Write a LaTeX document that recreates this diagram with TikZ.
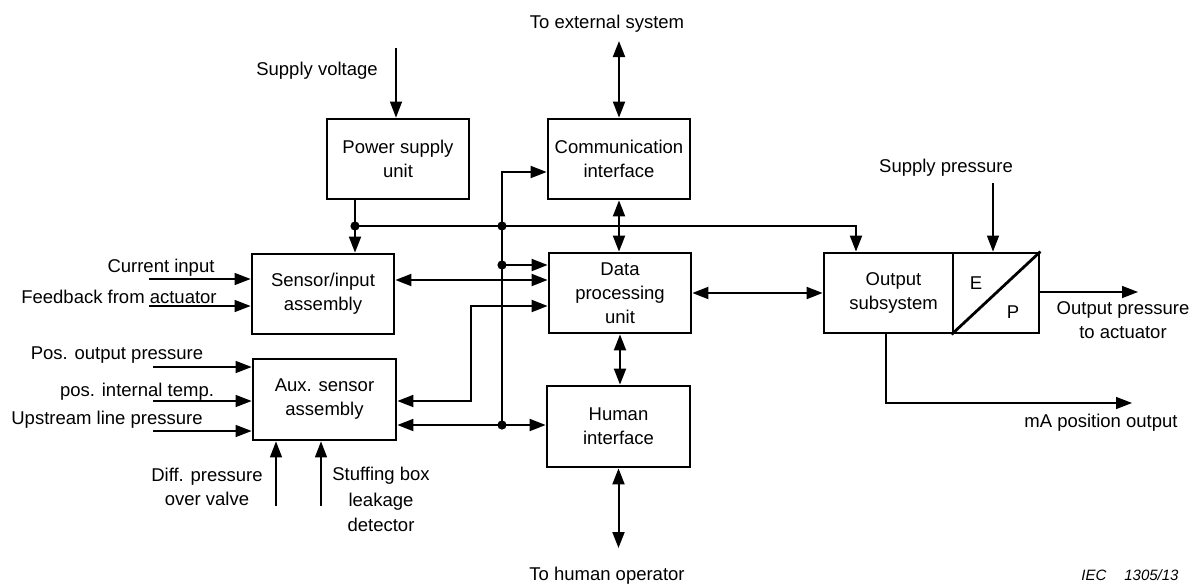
\documentclass[tikz,border=0pt]{standalone}
\usepackage{fontspec}
\setmainfont{Liberation Sans}
\usetikzlibrary{arrows.meta,calc,positioning}
\tikzset{blk/.style={draw, line width=1.4pt, minimum width=71pt, minimum height=40pt, align=center, inner sep=0pt},
	lbl/.style={align=center, inner sep=0pt, yshift=-1.25pt},
	bus/.style={line width=1pt},
	sig/.style={line width=0.7pt},
	jdot/.style={circle, fill, inner sep=0pt, minimum size=4.6pt}}

\begin{document}
\begin{tikzpicture}[x=0.5pt, y=-0.5pt, >={Triangle[length=8pt,width=6pt]}, font=\fontsize{9.25}{12}\selectfont]
	\useasboundingbox (0,0) rectangle (1195,584);

	% blocks
	\node [blk] (psu) at (398,159) {Power supply\\unit};
	\node [blk] (comm) at (619,159) {Communication\\interface};
	\node [blk] (sens) at (323,294) {Sensor/input\\assembly};
	\node [blk] (dpu) at (620,293) {Data\\processing\\unit};
	\node [blk, minimum width=71.5pt, minimum height=40.5pt] (aux) at (324.5,399.5) {Aux. sensor\\assembly};
	\node [blk, minimum width=71.5pt, minimum height=40.5pt] (hmi) at (618.5,426.5) {Human\\interface};
	\node [blk, minimum width=64.5pt] (out) at (888.5,293) {\hspace*{5pt}Output\\\hspace*{5pt}subsystem};
	\node [blk, minimum width=43pt] (ep) at (996,293) {};
	\draw [line width=1.4pt] (ep.south west) -- (ep.north east);
	\node [lbl] (e) at (976,281) {E};
	\node [lbl] (p) at (1013,310) {P};

	% junctions
	\coordinate (jp) at (355,226);
	\coordinate (jb) at (502,226);
	\coordinate (jo) at (856,226);
	\coordinate (jt) at (502,172);
	\coordinate (jd) at (502,265);
	\coordinate (jh) at (502,425);
	\coordinate (ja) at (471,401);
	\coordinate (jm) at (886,403);

	% power bus
	\draw [bus] (psu.south -| jp) -- (jp);
	\draw [bus,->] (jp) -- (sens.north -| jp);
	\draw [bus,->] (jp) -- (jb) -- (jo) -- (out.north -| jo);
	\draw [bus,->] (jh) -- (jt) -- (comm.west |- jt);
	\draw [bus,->] (jd) -- (dpu.west |- jd);
	\node [jdot] (d1) at (jp) {};
	\node [jdot] (d2) at (jb) {};
	\node [jdot] (d3) at (jd) {};
	\node [jdot] (d4) at (jh) {};

	% data links
	\draw [bus,<->] ([yshift=7pt]sens.east) -- ([yshift=7pt]sens.east -| dpu.west);
	\draw [bus,<->] (aux.east |- ja) -- (ja) |- ([yshift=-6.5pt]dpu.west);
	\draw [bus,<->] (aux.east |- jh) -- (hmi.west |- jh);
	\draw [bus,<->] (comm.south) -- (comm.south |- dpu.north);
	\draw [bus,<->] (dpu.south) -- (dpu.south |- hmi.north);
	\draw [bus,<->] (dpu.east) -- (out.west);

	% outside world
	\coordinate (ext) at (619,41);
	\coordinate (opr) at (619,548);
	\coordinate (sv) at (396,48);
	\coordinate (sp) at (993,183);
	\coordinate (opa) at (1138,292);
	\coordinate (ma) at (1132,403);
	\draw [bus,<->] (comm.north) -- (comm.north |- ext);
	\draw [bus,<->] (hmi.south) -- (hmi.south |- opr);
	\draw [sig,->] (sv) -- (psu.north -| sv);
	\draw [sig,->] (sp) -- (ep.north -| sp);
	\draw [sig,->] (ep.east |- opa) -- (opa);
	\draw [sig,->] (out.south -| jm) -- (jm) -- (ma);

	\node [lbl] (tsv) at (317,68) {Supply voltage};
	\node [lbl] (text) at (607,21) {To external system};
	\node [lbl] (tsp) at (946,165) {Supply pressure};
	\node [lbl] (topa) at (1123,318) {Output pressure\\to actuator};
	\node [lbl] (tma) at (1101,420) {mA position output};
	\node [lbl] (topr) at (607,573) {To human operator};

	% sensor inputs
	\coordinate (ci) at (149,279);
	\coordinate (fb) at (149,306);
	\coordinate (po) at (153,367);
	\coordinate (pt) at (153,401);
	\coordinate (ul) at (153,431);
	\coordinate (dv) at (276,506);
	\coordinate (sb) at (321,506);
	\draw [sig,->] (ci) -- (sens.west |- ci);
	\draw [sig,->] (fb) -- (sens.west |- fb);
	\draw [sig,->] (po) -- (aux.west |- po);
	\draw [sig,->] (pt) -- (aux.west |- pt);
	\draw [sig,->] (ul) -- (aux.west |- ul);
	\draw [sig,->] (dv) -- (aux.south -| dv);
	\draw [sig,->] (sb) -- (aux.south -| sb);

	\node [lbl] (tci) at (161,265) {Current input};
	\node [lbl] (tfb) at (119,294) {Feedback from actuator};
	\node [lbl] (tpo) at (117,353) {Pos. output pressure};
	\node [lbl] (tpt) at (137,389) {pos. internal temp.};
	\node [lbl] (tul) at (107,417) {Upstream line pressure};
	\node [lbl] (tdv) at (207,484) {Diff. pressure\\over valve};
	\node [lbl, font=\fontsize{9.25}{12.7}\selectfont] (tsb) at (381,497) {Stuffing box\\leakage\\detector};

	\node [inner sep=0pt, anchor=east, font=\fontsize{7.5}{9}\itshape] (iec) at (1179,575) {IEC\hspace{1.2em}1305/13};
\end{tikzpicture}
\end{document}
